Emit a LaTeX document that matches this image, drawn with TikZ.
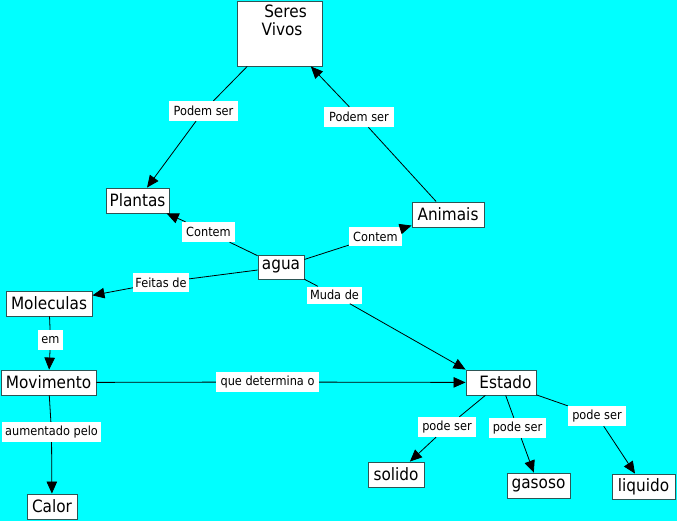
\documentclass[tikz,border=0pt]{standalone}
\usepackage{fontspec}
\setmainfont{DejaVu Sans}[FakeStretch=0.9]
\usetikzlibrary{arrows.meta}
\definecolor{bgc}{RGB}{0,255,255}
\definecolor{borderc}{RGB}{45,85,85}
\tikzset{
  concept/.style={draw=borderc, line width=0.9pt, fill=white, inner sep=0pt,
    font=\fontsize{17}{18}\selectfont, minimum height=25pt},
  lbl/.style={fill=white, inner sep=0pt, font=\fontsize{12.6}{14}\selectfont,
    minimum height=20pt},
  conn/.style={line width=0.8pt, black},
  arr/.style={conn, -{Triangle[length=12pt,width=10.5pt]}}
}
\begin{document}
\begin{tikzpicture}[x=1pt,y=-1pt]
\fill[bgc] (0,0) rectangle (677,521);
\useasboundingbox (0,0) rectangle (677,521);

% concepts
\node[concept, minimum width=85pt, minimum height=65pt] (sv) at (279.5,33.5)
  {\begin{minipage}[c][61pt][t]{80pt}\vspace*{1.5pt}\centering\hspace*{12pt}Seres\\\hspace*{5pt}Vivos\end{minipage}};
\node[concept, minimum width=63pt] (plantas) at (137.5,200.5) {Plantas};
\node[concept, minimum width=72pt] (animais) at (448,214.5) {Animais};
\node[concept, minimum width=46pt, minimum height=24pt] (agua) at (281,267) {agua};
\node[concept, minimum width=86pt] (moleculas) at (49,303.5) {Moleculas};
\node[concept, minimum width=95pt] (movimento) at (48.5,382.5) {Movimento};
\node[concept, minimum width=70pt] (estado) at (501,382.5) {\hspace*{9pt}Estado};
\node[concept, minimum width=56pt] (solido) at (396,474.5) {solido};
\node[concept, minimum width=63pt] (gasoso) at (538.5,485.5) {gasoso};
\node[concept, minimum width=63pt] (liquido) at (643.5,486.5) {liquido};
\node[concept, minimum width=50pt] (calor) at (52,506.5) {Calor};

% linking phrases
\node[lbl, minimum width=69pt] (l1) at (203.5,111) {Podem ser};
\node[lbl, minimum width=70pt] (l2) at (359,117) {Podem ser};
\node[lbl, minimum width=53pt] (l3) at (208.5,232) {Contem};
\node[lbl, minimum width=53pt, minimum height=19pt] (l4) at (375.5,236.5) {Contem};
\node[lbl, minimum width=56pt, minimum height=18pt] (l5) at (161,282.5) {Feitas de};
\node[lbl, minimum width=55pt, minimum height=17pt] (l6) at (334.5,295) {Muda de};
\node[lbl, minimum width=25pt] (l7) at (50.5,340) {em};
\node[lbl, minimum width=103pt] (l8) at (267.5,382) {que determina o};
\node[lbl, minimum width=99pt] (l9) at (51.5,432) {aumentado pelo};
\node[lbl, minimum width=58pt] (l10) at (447,427) {pode ser};
\node[lbl, minimum width=57pt] (l11) at (517.5,428) {pode ser};
\node[lbl, minimum width=58pt] (l12) at (597,416) {pode ser};

% connectors
\draw[conn] (sv) -- (l1);
\draw[arr] (l1) -- (plantas);
\draw[conn] (animais) -- (l2);
\draw[arr] (l2) -- (sv);
\draw[conn] (agua) -- (l3);
\draw[arr] (l3) -- (plantas);
\draw[conn] (agua) -- (l4);
\draw[arr] (l4) -- (animais);
\draw[conn] (agua) -- (l5);
\draw[arr] (l5) -- (moleculas);
\draw[conn] (agua) -- (l6);
\draw[arr] (l6) -- (estado.north west);
\draw[conn] (moleculas) -- (l7);
\draw[arr] (l7) -- (movimento);
\draw[conn] (movimento) -- (l8);
\draw[arr] (l8) -- (estado);
\draw[conn] (movimento) -- (l9);
\draw[arr] (l9) -- (calor);
\draw[conn] (estado) -- (l10);
\draw[arr] (l10) -- (solido);
\draw[conn] (estado) -- (l11);
\draw[arr] (l11) -- (gasoso);
\draw[conn] (estado) -- (l12);
\draw[arr] (l12) -- (liquido);
\end{tikzpicture}
\end{document}
